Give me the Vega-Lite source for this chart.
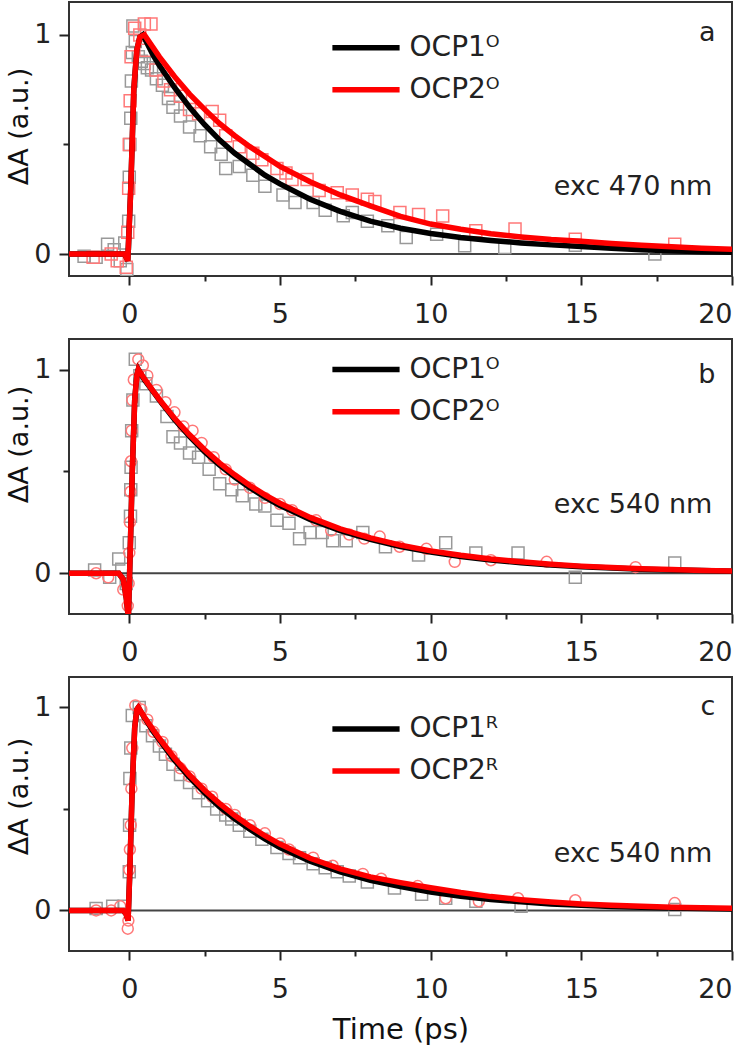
{
"$schema":"https://vega.github.io/schema/vega-lite/v6.json",
"padding":{"left":4,"top":1,"right":0,"bottom":0},
"bounds":"flush",
"spacing":63,
"resolve":{"scale":{"color":"independent","x":"independent","y":"independent"}},
"config":{
 "view":{"stroke":"#333","strokeWidth":2},
 "axis":{"domain":false,"grid":false,"labelFont":"DejaVu Sans","labelFontSize":27,"labelColor":"#222","titleFont":"DejaVu Sans","titleFontSize":29,"titleFontWeight":"normal","titleColor":"#111","tickColor":"#222","tickWidth":2},
 "axisY":{"titleFontSize":27},
 "text":{"font":"DejaVu Sans"}
},
"datasets":{
"pts":[
{"p":"a","s":"OCP1","t":-1.5,"v":-0.01},{"p":"a","s":"OCP1","t":-1.1,"v":-0.015},{"p":"a","s":"OCP1","t":-0.72,"v":0.045},{"p":"a","s":"OCP1","t":-0.5,"v":0.02},{"p":"a","s":"OCP1","t":-0.3,"v":-0.03},{"p":"a","s":"OCP1","t":-0.15,"v":0.05},{"p":"a","s":"OCP1","t":-0.08,"v":-0.07},{"p":"a","s":"OCP1","t":-0.02,"v":0.15},{"p":"a","s":"OCP1","t":0.0,"v":0.35},{"p":"a","s":"OCP1","t":0.02,"v":0.5},{"p":"a","s":"OCP1","t":0.05,"v":0.62},{"p":"a","s":"OCP1","t":0.07,"v":0.79},{"p":"a","s":"OCP1","t":0.1,"v":0.92},{"p":"a","s":"OCP1","t":0.12,"v":1.04},{"p":"a","s":"OCP1","t":0.2,"v":0.97},{"p":"a","s":"OCP1","t":0.3,"v":0.9},{"p":"a","s":"OCP1","t":0.4,"v":0.88},{"p":"a","s":"OCP1","t":0.5,"v":0.87},{"p":"a","s":"OCP1","t":0.6,"v":0.85},{"p":"a","s":"OCP1","t":0.74,"v":0.84},{"p":"a","s":"OCP1","t":0.9,"v":0.8},{"p":"a","s":"OCP1","t":1.1,"v":0.77},{"p":"a","s":"OCP1","t":1.3,"v":0.71},{"p":"a","s":"OCP1","t":1.45,"v":0.67},{"p":"a","s":"OCP1","t":1.7,"v":0.63},{"p":"a","s":"OCP1","t":2.0,"v":0.58},{"p":"a","s":"OCP1","t":2.35,"v":0.54},{"p":"a","s":"OCP1","t":2.7,"v":0.49},{"p":"a","s":"OCP1","t":3.05,"v":0.455},{"p":"a","s":"OCP1","t":3.2,"v":0.39},{"p":"a","s":"OCP1","t":3.65,"v":0.4},{"p":"a","s":"OCP1","t":4.1,"v":0.36},{"p":"a","s":"OCP1","t":4.5,"v":0.31},{"p":"a","s":"OCP1","t":5.1,"v":0.27},{"p":"a","s":"OCP1","t":5.5,"v":0.235},{"p":"a","s":"OCP1","t":6.1,"v":0.235},{"p":"a","s":"OCP1","t":6.5,"v":0.2},{"p":"a","s":"OCP1","t":7.1,"v":0.175},{"p":"a","s":"OCP1","t":7.4,"v":0.19},{"p":"a","s":"OCP1","t":7.9,"v":0.15},{"p":"a","s":"OCP1","t":8.58,"v":0.129},{"p":"a","s":"OCP1","t":9.19,"v":0.076},{"p":"a","s":"OCP1","t":10.2,"v":0.09},{"p":"a","s":"OCP1","t":11.13,"v":0.038},{"p":"a","s":"OCP1","t":12.46,"v":0.03},{"p":"a","s":"OCP1","t":14.8,"v":0.04},{"p":"a","s":"OCP1","t":17.44,"v":0.0},
{"p":"a","s":"OCP2","t":-1.2,"v":-0.015},{"p":"a","s":"OCP2","t":-0.6,"v":0.0},{"p":"a","s":"OCP2","t":-0.4,"v":-0.03},{"p":"a","s":"OCP2","t":-0.1,"v":-0.06},{"p":"a","s":"OCP2","t":-0.05,"v":0.1},{"p":"a","s":"OCP2","t":-0.02,"v":0.3},{"p":"a","s":"OCP2","t":0.0,"v":0.5},{"p":"a","s":"OCP2","t":0.03,"v":0.7},{"p":"a","s":"OCP2","t":0.06,"v":0.9},{"p":"a","s":"OCP2","t":0.18,"v":1.03},{"p":"a","s":"OCP2","t":0.35,"v":1.0},{"p":"a","s":"OCP2","t":0.5,"v":1.05},{"p":"a","s":"OCP2","t":0.55,"v":0.93},{"p":"a","s":"OCP2","t":0.72,"v":1.05},{"p":"a","s":"OCP2","t":0.88,"v":0.84},{"p":"a","s":"OCP2","t":1.15,"v":0.79},{"p":"a","s":"OCP2","t":1.37,"v":0.75},{"p":"a","s":"OCP2","t":1.7,"v":0.72},{"p":"a","s":"OCP2","t":2.0,"v":0.66},{"p":"a","s":"OCP2","t":2.3,"v":0.64},{"p":"a","s":"OCP2","t":2.75,"v":0.65},{"p":"a","s":"OCP2","t":3.0,"v":0.61},{"p":"a","s":"OCP2","t":3.2,"v":0.54},{"p":"a","s":"OCP2","t":3.65,"v":0.49},{"p":"a","s":"OCP2","t":4.1,"v":0.46},{"p":"a","s":"OCP2","t":4.4,"v":0.43},{"p":"a","s":"OCP2","t":4.9,"v":0.39},{"p":"a","s":"OCP2","t":5.2,"v":0.37},{"p":"a","s":"OCP2","t":5.4,"v":0.34},{"p":"a","s":"OCP2","t":5.9,"v":0.34},{"p":"a","s":"OCP2","t":6.3,"v":0.29},{"p":"a","s":"OCP2","t":6.9,"v":0.28},{"p":"a","s":"OCP2","t":7.4,"v":0.27},{"p":"a","s":"OCP2","t":7.9,"v":0.25},{"p":"a","s":"OCP2","t":8.15,"v":0.24},{"p":"a","s":"OCP2","t":8.98,"v":0.19},{"p":"a","s":"OCP2","t":9.6,"v":0.18},{"p":"a","s":"OCP2","t":10.4,"v":0.174},{"p":"a","s":"OCP2","t":11.5,"v":0.106},{"p":"a","s":"OCP2","t":12.8,"v":0.114},{"p":"a","s":"OCP2","t":14.8,"v":0.068},{"p":"a","s":"OCP2","t":18.1,"v":0.045},
{"p":"b","s":"OCP1","t":-1.15,"v":0.016},{"p":"b","s":"OCP1","t":-0.65,"v":-0.02},{"p":"b","s":"OCP1","t":-0.35,"v":0.07},{"p":"b","s":"OCP1","t":-0.25,"v":0.02},{"p":"b","s":"OCP1","t":-0.1,"v":-0.05},{"p":"b","s":"OCP1","t":0.0,"v":0.15},{"p":"b","s":"OCP1","t":0.04,"v":0.28},{"p":"b","s":"OCP1","t":0.05,"v":0.41},{"p":"b","s":"OCP1","t":0.06,"v":0.52},{"p":"b","s":"OCP1","t":0.08,"v":0.7},{"p":"b","s":"OCP1","t":0.12,"v":0.85},{"p":"b","s":"OCP1","t":0.2,"v":1.05},{"p":"b","s":"OCP1","t":0.35,"v":0.97},{"p":"b","s":"OCP1","t":0.55,"v":0.93},{"p":"b","s":"OCP1","t":0.9,"v":0.87},{"p":"b","s":"OCP1","t":1.25,"v":0.77},{"p":"b","s":"OCP1","t":1.45,"v":0.67},{"p":"b","s":"OCP1","t":1.7,"v":0.64},{"p":"b","s":"OCP1","t":2.0,"v":0.59},{"p":"b","s":"OCP1","t":2.3,"v":0.57},{"p":"b","s":"OCP1","t":2.65,"v":0.51},{"p":"b","s":"OCP1","t":3.0,"v":0.44},{"p":"b","s":"OCP1","t":3.4,"v":0.41},{"p":"b","s":"OCP1","t":3.75,"v":0.38},{"p":"b","s":"OCP1","t":4.2,"v":0.34},{"p":"b","s":"OCP1","t":4.5,"v":0.33},{"p":"b","s":"OCP1","t":4.9,"v":0.26},{"p":"b","s":"OCP1","t":5.3,"v":0.245},{"p":"b","s":"OCP1","t":5.65,"v":0.17},{"p":"b","s":"OCP1","t":6.0,"v":0.2},{"p":"b","s":"OCP1","t":6.4,"v":0.2},{"p":"b","s":"OCP1","t":6.75,"v":0.16},{"p":"b","s":"OCP1","t":7.2,"v":0.16},{"p":"b","s":"OCP1","t":7.75,"v":0.2},{"p":"b","s":"OCP1","t":8.5,"v":0.13},{"p":"b","s":"OCP1","t":9.6,"v":0.09},{"p":"b","s":"OCP1","t":10.5,"v":0.15},{"p":"b","s":"OCP1","t":11.5,"v":0.1},{"p":"b","s":"OCP1","t":12.9,"v":0.1},{"p":"b","s":"OCP1","t":14.8,"v":-0.02},{"p":"b","s":"OCP1","t":18.1,"v":0.05},
{"p":"b","s":"OCP2","t":-1.1,"v":0.0},{"p":"b","s":"OCP2","t":-0.7,"v":-0.02},{"p":"b","s":"OCP2","t":-0.2,"v":-0.08},{"p":"b","s":"OCP2","t":-0.05,"v":-0.16},{"p":"b","s":"OCP2","t":-0.02,"v":-0.05},{"p":"b","s":"OCP2","t":0.0,"v":0.1},{"p":"b","s":"OCP2","t":0.02,"v":0.25},{"p":"b","s":"OCP2","t":0.04,"v":0.4},{"p":"b","s":"OCP2","t":0.06,"v":0.55},{"p":"b","s":"OCP2","t":0.08,"v":0.7},{"p":"b","s":"OCP2","t":0.1,"v":0.85},{"p":"b","s":"OCP2","t":0.15,"v":0.95},{"p":"b","s":"OCP2","t":0.3,"v":1.05},{"p":"b","s":"OCP2","t":0.45,"v":1.02},{"p":"b","s":"OCP2","t":0.6,"v":0.97},{"p":"b","s":"OCP2","t":0.9,"v":0.9},{"p":"b","s":"OCP2","t":1.2,"v":0.84},{"p":"b","s":"OCP2","t":1.5,"v":0.79},{"p":"b","s":"OCP2","t":1.8,"v":0.72},{"p":"b","s":"OCP2","t":2.1,"v":0.7},{"p":"b","s":"OCP2","t":2.4,"v":0.64},{"p":"b","s":"OCP2","t":2.8,"v":0.57},{"p":"b","s":"OCP2","t":3.2,"v":0.51},{"p":"b","s":"OCP2","t":3.5,"v":0.46},{"p":"b","s":"OCP2","t":4.0,"v":0.42},{"p":"b","s":"OCP2","t":4.5,"v":0.37},{"p":"b","s":"OCP2","t":5.0,"v":0.34},{"p":"b","s":"OCP2","t":5.4,"v":0.31},{"p":"b","s":"OCP2","t":6.2,"v":0.26},{"p":"b","s":"OCP2","t":6.7,"v":0.21},{"p":"b","s":"OCP2","t":7.3,"v":0.19},{"p":"b","s":"OCP2","t":7.8,"v":0.17},{"p":"b","s":"OCP2","t":8.31,"v":0.18},{"p":"b","s":"OCP2","t":8.97,"v":0.13},{"p":"b","s":"OCP2","t":9.86,"v":0.12},{"p":"b","s":"OCP2","t":10.8,"v":0.056},{"p":"b","s":"OCP2","t":12.0,"v":0.064},{"p":"b","s":"OCP2","t":13.85,"v":0.056},{"p":"b","s":"OCP2","t":16.8,"v":0.03},
{"p":"c","s":"OCP1","t":-1.1,"v":0.01},{"p":"c","s":"OCP1","t":-0.55,"v":0.02},{"p":"c","s":"OCP1","t":-0.17,"v":0.02},{"p":"c","s":"OCP1","t":0.0,"v":0.19},{"p":"c","s":"OCP1","t":0.01,"v":0.42},{"p":"c","s":"OCP1","t":0.02,"v":0.65},{"p":"c","s":"OCP1","t":0.05,"v":0.8},{"p":"c","s":"OCP1","t":0.1,"v":0.96},{"p":"c","s":"OCP1","t":0.33,"v":1.0},{"p":"c","s":"OCP1","t":0.55,"v":0.91},{"p":"c","s":"OCP1","t":0.77,"v":0.86},{"p":"c","s":"OCP1","t":1.0,"v":0.81},{"p":"c","s":"OCP1","t":1.2,"v":0.77},{"p":"c","s":"OCP1","t":1.45,"v":0.72},{"p":"c","s":"OCP1","t":1.7,"v":0.67},{"p":"c","s":"OCP1","t":2.0,"v":0.63},{"p":"c","s":"OCP1","t":2.3,"v":0.58},{"p":"c","s":"OCP1","t":2.6,"v":0.54},{"p":"c","s":"OCP1","t":2.9,"v":0.5},{"p":"c","s":"OCP1","t":3.2,"v":0.47},{"p":"c","s":"OCP1","t":3.4,"v":0.45},{"p":"c","s":"OCP1","t":3.65,"v":0.42},{"p":"c","s":"OCP1","t":4.0,"v":0.39},{"p":"c","s":"OCP1","t":4.4,"v":0.35},{"p":"c","s":"OCP1","t":4.9,"v":0.31},{"p":"c","s":"OCP1","t":5.3,"v":0.28},{"p":"c","s":"OCP1","t":5.65,"v":0.26},{"p":"c","s":"OCP1","t":6.1,"v":0.23},{"p":"c","s":"OCP1","t":6.5,"v":0.21},{"p":"c","s":"OCP1","t":6.9,"v":0.19},{"p":"c","s":"OCP1","t":7.3,"v":0.17},{"p":"c","s":"OCP1","t":7.9,"v":0.14},{"p":"c","s":"OCP1","t":8.8,"v":0.11},{"p":"c","s":"OCP1","t":9.7,"v":0.08},{"p":"c","s":"OCP1","t":10.5,"v":0.06},{"p":"c","s":"OCP1","t":11.5,"v":0.045},{"p":"c","s":"OCP1","t":13.0,"v":0.02},{"p":"c","s":"OCP1","t":18.1,"v":0.005},
{"p":"c","s":"OCP2","t":-1.1,"v":0.0},{"p":"c","s":"OCP2","t":-0.6,"v":0.0},{"p":"c","s":"OCP2","t":-0.3,"v":0.02},{"p":"c","s":"OCP2","t":-0.05,"v":-0.09},{"p":"c","s":"OCP2","t":-0.03,"v":-0.05},{"p":"c","s":"OCP2","t":0.0,"v":0.2},{"p":"c","s":"OCP2","t":0.02,"v":0.3},{"p":"c","s":"OCP2","t":0.05,"v":0.42},{"p":"c","s":"OCP2","t":0.07,"v":0.6},{"p":"c","s":"OCP2","t":0.1,"v":0.8},{"p":"c","s":"OCP2","t":0.2,"v":1.01},{"p":"c","s":"OCP2","t":0.4,"v":0.99},{"p":"c","s":"OCP2","t":0.6,"v":0.94},{"p":"c","s":"OCP2","t":0.8,"v":0.88},{"p":"c","s":"OCP2","t":1.1,"v":0.83},{"p":"c","s":"OCP2","t":1.4,"v":0.76},{"p":"c","s":"OCP2","t":1.7,"v":0.7},{"p":"c","s":"OCP2","t":2.0,"v":0.66},{"p":"c","s":"OCP2","t":2.4,"v":0.6},{"p":"c","s":"OCP2","t":2.75,"v":0.56},{"p":"c","s":"OCP2","t":3.2,"v":0.5},{"p":"c","s":"OCP2","t":3.5,"v":0.47},{"p":"c","s":"OCP2","t":4.0,"v":0.42},{"p":"c","s":"OCP2","t":4.5,"v":0.38},{"p":"c","s":"OCP2","t":5.0,"v":0.33},{"p":"c","s":"OCP2","t":5.3,"v":0.3},{"p":"c","s":"OCP2","t":6.1,"v":0.26},{"p":"c","s":"OCP2","t":6.75,"v":0.22},{"p":"c","s":"OCP2","t":7.75,"v":0.18},{"p":"c","s":"OCP2","t":8.36,"v":0.156},{"p":"c","s":"OCP2","t":9.57,"v":0.12},{"p":"c","s":"OCP2","t":10.5,"v":0.06},{"p":"c","s":"OCP2","t":11.6,"v":0.045},{"p":"c","s":"OCP2","t":12.9,"v":0.06},{"p":"c","s":"OCP2","t":14.8,"v":0.05},{"p":"c","s":"OCP2","t":18.1,"v":0.036}
],
"fit":[
{"p":"a","s":"OCP1","t":-2,"v":0},{"p":"a","s":"OCP1","t":-0.15,"v":0},{"p":"a","s":"OCP1","t":-0.05,"v":-0.03},{"p":"a","s":"OCP1","t":0.05,"v":0.3},{"p":"a","s":"OCP1","t":0.15,"v":0.75},{"p":"a","s":"OCP1","t":0.25,"v":0.93},{"p":"a","s":"OCP1","t":0.35,"v":0.99},{"p":"a","s":"OCP1","t":0.45,"v":1.0},{"p":"a","s":"OCP1","t":0.6,"v":0.96},{"p":"a","s":"OCP1","t":0.8,"v":0.905},{"p":"a","s":"OCP1","t":1,"v":0.86},{"p":"a","s":"OCP1","t":1.5,"v":0.76},{"p":"a","s":"OCP1","t":2,"v":0.67},{"p":"a","s":"OCP1","t":2.5,"v":0.59},{"p":"a","s":"OCP1","t":3,"v":0.52},{"p":"a","s":"OCP1","t":3.5,"v":0.46},{"p":"a","s":"OCP1","t":4,"v":0.41},{"p":"a","s":"OCP1","t":4.5,"v":0.36},{"p":"a","s":"OCP1","t":5,"v":0.32},{"p":"a","s":"OCP1","t":6,"v":0.25},{"p":"a","s":"OCP1","t":7,"v":0.195},{"p":"a","s":"OCP1","t":8,"v":0.15},{"p":"a","s":"OCP1","t":9,"v":0.118},{"p":"a","s":"OCP1","t":10,"v":0.094},{"p":"a","s":"OCP1","t":11,"v":0.076},{"p":"a","s":"OCP1","t":12,"v":0.062},{"p":"a","s":"OCP1","t":13,"v":0.051},{"p":"a","s":"OCP1","t":14,"v":0.042},{"p":"a","s":"OCP1","t":15,"v":0.035},{"p":"a","s":"OCP1","t":16,"v":0.027},{"p":"a","s":"OCP1","t":17,"v":0.02},{"p":"a","s":"OCP1","t":18,"v":0.015},{"p":"a","s":"OCP1","t":19,"v":0.011},{"p":"a","s":"OCP1","t":20,"v":0.008},
{"p":"a","s":"OCP2","t":-2,"v":0},{"p":"a","s":"OCP2","t":-0.15,"v":0},{"p":"a","s":"OCP2","t":-0.05,"v":-0.03},{"p":"a","s":"OCP2","t":0.05,"v":0.3},{"p":"a","s":"OCP2","t":0.15,"v":0.75},{"p":"a","s":"OCP2","t":0.25,"v":0.93},{"p":"a","s":"OCP2","t":0.35,"v":0.99},{"p":"a","s":"OCP2","t":0.5,"v":1.0},{"p":"a","s":"OCP2","t":0.7,"v":0.96},{"p":"a","s":"OCP2","t":1,"v":0.9},{"p":"a","s":"OCP2","t":1.5,"v":0.81},{"p":"a","s":"OCP2","t":2,"v":0.73},{"p":"a","s":"OCP2","t":2.5,"v":0.66},{"p":"a","s":"OCP2","t":3,"v":0.595},{"p":"a","s":"OCP2","t":3.5,"v":0.54},{"p":"a","s":"OCP2","t":4,"v":0.49},{"p":"a","s":"OCP2","t":4.5,"v":0.445},{"p":"a","s":"OCP2","t":5,"v":0.4},{"p":"a","s":"OCP2","t":6,"v":0.33},{"p":"a","s":"OCP2","t":7,"v":0.27},{"p":"a","s":"OCP2","t":8,"v":0.22},{"p":"a","s":"OCP2","t":9,"v":0.172},{"p":"a","s":"OCP2","t":10,"v":0.137},{"p":"a","s":"OCP2","t":11,"v":0.113},{"p":"a","s":"OCP2","t":12,"v":0.093},{"p":"a","s":"OCP2","t":13,"v":0.078},{"p":"a","s":"OCP2","t":14,"v":0.066},{"p":"a","s":"OCP2","t":15,"v":0.058},{"p":"a","s":"OCP2","t":16,"v":0.048},{"p":"a","s":"OCP2","t":17,"v":0.04},{"p":"a","s":"OCP2","t":18,"v":0.033},{"p":"a","s":"OCP2","t":19,"v":0.027},{"p":"a","s":"OCP2","t":20,"v":0.022},
{"p":"b","s":"OCP1","t":-2,"v":0},{"p":"b","s":"OCP1","t":-0.35,"v":0},{"p":"b","s":"OCP1","t":-0.2,"v":-0.03},{"p":"b","s":"OCP1","t":-0.1,"v":-0.12},{"p":"b","s":"OCP1","t":-0.03,"v":-0.22},{"p":"b","s":"OCP1","t":0.03,"v":0.1},{"p":"b","s":"OCP1","t":0.1,"v":0.5},{"p":"b","s":"OCP1","t":0.18,"v":0.85},{"p":"b","s":"OCP1","t":0.25,"v":0.97},{"p":"b","s":"OCP1","t":0.3,"v":1.0},{"p":"b","s":"OCP1","t":0.5,"v":0.95},{"p":"b","s":"OCP1","t":0.8,"v":0.89},{"p":"b","s":"OCP1","t":1,"v":0.85},{"p":"b","s":"OCP1","t":1.5,"v":0.755},{"p":"b","s":"OCP1","t":2,"v":0.672},{"p":"b","s":"OCP1","t":2.5,"v":0.597},{"p":"b","s":"OCP1","t":3,"v":0.531},{"p":"b","s":"OCP1","t":3.5,"v":0.472},{"p":"b","s":"OCP1","t":4,"v":0.42},{"p":"b","s":"OCP1","t":4.5,"v":0.374},{"p":"b","s":"OCP1","t":5,"v":0.333},{"p":"b","s":"OCP1","t":6,"v":0.264},{"p":"b","s":"OCP1","t":7,"v":0.209},{"p":"b","s":"OCP1","t":8,"v":0.166},{"p":"b","s":"OCP1","t":9,"v":0.131},{"p":"b","s":"OCP1","t":10,"v":0.104},{"p":"b","s":"OCP1","t":11,"v":0.082},{"p":"b","s":"OCP1","t":12,"v":0.065},{"p":"b","s":"OCP1","t":13,"v":0.052},{"p":"b","s":"OCP1","t":14,"v":0.041},{"p":"b","s":"OCP1","t":15,"v":0.032},{"p":"b","s":"OCP1","t":16,"v":0.026},{"p":"b","s":"OCP1","t":17,"v":0.02},{"p":"b","s":"OCP1","t":18,"v":0.016},{"p":"b","s":"OCP1","t":19,"v":0.013},{"p":"b","s":"OCP1","t":20,"v":0.01},
{"p":"b","s":"OCP2","t":-2,"v":0},{"p":"b","s":"OCP2","t":-0.35,"v":0},{"p":"b","s":"OCP2","t":-0.2,"v":-0.03},{"p":"b","s":"OCP2","t":-0.1,"v":-0.12},{"p":"b","s":"OCP2","t":-0.03,"v":-0.22},{"p":"b","s":"OCP2","t":0.03,"v":0.1},{"p":"b","s":"OCP2","t":0.1,"v":0.5},{"p":"b","s":"OCP2","t":0.18,"v":0.85},{"p":"b","s":"OCP2","t":0.25,"v":0.97},{"p":"b","s":"OCP2","t":0.3,"v":1.0},{"p":"b","s":"OCP2","t":0.5,"v":0.955},{"p":"b","s":"OCP2","t":0.8,"v":0.893},{"p":"b","s":"OCP2","t":1,"v":0.853},{"p":"b","s":"OCP2","t":1.5,"v":0.761},{"p":"b","s":"OCP2","t":2,"v":0.68},{"p":"b","s":"OCP2","t":2.5,"v":0.606},{"p":"b","s":"OCP2","t":3,"v":0.541},{"p":"b","s":"OCP2","t":3.5,"v":0.483},{"p":"b","s":"OCP2","t":4,"v":0.431},{"p":"b","s":"OCP2","t":4.5,"v":0.385},{"p":"b","s":"OCP2","t":5,"v":0.344},{"p":"b","s":"OCP2","t":6,"v":0.274},{"p":"b","s":"OCP2","t":7,"v":0.218},{"p":"b","s":"OCP2","t":8,"v":0.174},{"p":"b","s":"OCP2","t":9,"v":0.138},{"p":"b","s":"OCP2","t":10,"v":0.11},{"p":"b","s":"OCP2","t":11,"v":0.088},{"p":"b","s":"OCP2","t":12,"v":0.07},{"p":"b","s":"OCP2","t":13,"v":0.056},{"p":"b","s":"OCP2","t":14,"v":0.044},{"p":"b","s":"OCP2","t":15,"v":0.035},{"p":"b","s":"OCP2","t":16,"v":0.028},{"p":"b","s":"OCP2","t":17,"v":0.022},{"p":"b","s":"OCP2","t":18,"v":0.018},{"p":"b","s":"OCP2","t":19,"v":0.014},{"p":"b","s":"OCP2","t":20,"v":0.011},
{"p":"c","s":"OCP1","t":-2,"v":0},{"p":"c","s":"OCP1","t":-0.2,"v":0},{"p":"c","s":"OCP1","t":-0.1,"v":-0.02},{"p":"c","s":"OCP1","t":-0.04,"v":-0.05},{"p":"c","s":"OCP1","t":0.02,"v":0.2},{"p":"c","s":"OCP1","t":0.1,"v":0.62},{"p":"c","s":"OCP1","t":0.18,"v":0.9},{"p":"c","s":"OCP1","t":0.25,"v":0.99},{"p":"c","s":"OCP1","t":0.3,"v":1.0},{"p":"c","s":"OCP1","t":0.5,"v":0.95},{"p":"c","s":"OCP1","t":0.8,"v":0.88},{"p":"c","s":"OCP1","t":1,"v":0.84},{"p":"c","s":"OCP1","t":1.5,"v":0.74},{"p":"c","s":"OCP1","t":2,"v":0.655},{"p":"c","s":"OCP1","t":2.5,"v":0.58},{"p":"c","s":"OCP1","t":3,"v":0.51},{"p":"c","s":"OCP1","t":3.5,"v":0.452},{"p":"c","s":"OCP1","t":4,"v":0.4},{"p":"c","s":"OCP1","t":4.5,"v":0.352},{"p":"c","s":"OCP1","t":5,"v":0.31},{"p":"c","s":"OCP1","t":6,"v":0.242},{"p":"c","s":"OCP1","t":7,"v":0.19},{"p":"c","s":"OCP1","t":8,"v":0.148},{"p":"c","s":"OCP1","t":9,"v":0.117},{"p":"c","s":"OCP1","t":10,"v":0.09},{"p":"c","s":"OCP1","t":11,"v":0.07},{"p":"c","s":"OCP1","t":12,"v":0.054},{"p":"c","s":"OCP1","t":13,"v":0.042},{"p":"c","s":"OCP1","t":14,"v":0.032},{"p":"c","s":"OCP1","t":15,"v":0.025},{"p":"c","s":"OCP1","t":16,"v":0.019},{"p":"c","s":"OCP1","t":17,"v":0.015},{"p":"c","s":"OCP1","t":18,"v":0.012},{"p":"c","s":"OCP1","t":19,"v":0.009},{"p":"c","s":"OCP1","t":20,"v":0.007},
{"p":"c","s":"OCP2","t":-2,"v":0},{"p":"c","s":"OCP2","t":-0.2,"v":0},{"p":"c","s":"OCP2","t":-0.1,"v":-0.02},{"p":"c","s":"OCP2","t":-0.04,"v":-0.05},{"p":"c","s":"OCP2","t":0.02,"v":0.2},{"p":"c","s":"OCP2","t":0.1,"v":0.62},{"p":"c","s":"OCP2","t":0.18,"v":0.9},{"p":"c","s":"OCP2","t":0.25,"v":0.99},{"p":"c","s":"OCP2","t":0.3,"v":1.0},{"p":"c","s":"OCP2","t":0.5,"v":0.953},{"p":"c","s":"OCP2","t":0.8,"v":0.888},{"p":"c","s":"OCP2","t":1,"v":0.847},{"p":"c","s":"OCP2","t":1.5,"v":0.751},{"p":"c","s":"OCP2","t":2,"v":0.667},{"p":"c","s":"OCP2","t":2.5,"v":0.592},{"p":"c","s":"OCP2","t":3,"v":0.526},{"p":"c","s":"OCP2","t":3.5,"v":0.467},{"p":"c","s":"OCP2","t":4,"v":0.415},{"p":"c","s":"OCP2","t":4.5,"v":0.368},{"p":"c","s":"OCP2","t":5,"v":0.327},{"p":"c","s":"OCP2","t":6,"v":0.257},{"p":"c","s":"OCP2","t":7,"v":0.205},{"p":"c","s":"OCP2","t":8,"v":0.165},{"p":"c","s":"OCP2","t":9,"v":0.137},{"p":"c","s":"OCP2","t":10,"v":0.112},{"p":"c","s":"OCP2","t":11,"v":0.088},{"p":"c","s":"OCP2","t":12,"v":0.068},{"p":"c","s":"OCP2","t":13,"v":0.053},{"p":"c","s":"OCP2","t":14,"v":0.041},{"p":"c","s":"OCP2","t":15,"v":0.032},{"p":"c","s":"OCP2","t":16,"v":0.025},{"p":"c","s":"OCP2","t":17,"v":0.02},{"p":"c","s":"OCP2","t":18,"v":0.016},{"p":"c","s":"OCP2","t":19,"v":0.013},{"p":"c","s":"OCP2","t":20,"v":0.011}
]
},
"vconcat":[
{
 "width":663,"height":274,
 "layer":[
  {"data":{"values":[{}]},"mark":{"type":"rule","color":"#444","strokeWidth":2},"encoding":{"y":{"datum":0,"type":"quantitative","scale":{"domain":[-0.1,1.15],"nice":false,"zero":false}}}},
  {"data":{"name":"pts"},"transform":[{"filter":"datum.p==='a' && datum.s==='OCP1'"}],"mark":{"type":"point","shape":"square","filled":false,"color":"#999","strokeWidth":1.5,"size":144,"opacity":1,"clip":true},
   "encoding":{"x":{"field":"t","type":"quantitative"},"y":{"field":"v","type":"quantitative"}}},
  {"data":{"name":"pts"},"transform":[{"filter":"datum.p==='a' && datum.s==='OCP2'"}],"mark":{"type":"point","shape":"square","filled":false,"color":"#ff7878","strokeWidth":1.5,"size":144,"opacity":1,"clip":true},
   "encoding":{"x":{"field":"t","type":"quantitative"},"y":{"field":"v","type":"quantitative"}}},
  {"data":{"name":"fit"},"transform":[{"filter":"datum.p==='a'"}],"mark":{"type":"line","strokeWidth":5.5,"clip":true},
   "encoding":{
    "x":{"field":"t","type":"quantitative","scale":{"domain":[-2,20],"nice":false,"zero":false},
         "axis":{"title":null,"values":[0,2.5,5,7.5,10,12.5,15,17.5,20],"format":"~g","labelExpr":"datum.value % 5 === 0 ? datum.label : ''","labelPadding":16,"tickSize":{"condition":{"test":"datum.value % 5 === 0","value":9},"value":5}}},
    "y":{"field":"v","type":"quantitative","scale":{"domain":[-0.1,1.15],"nice":false,"zero":false},
         "axis":{"title":"ΔA (a.u.)","values":[0,0.5,1],"format":"~g","labelExpr":"datum.value === 0.5 ? '' : datum.label","labelPadding":8,"titlePadding":0,"titleY":124,"tickSize":{"condition":{"test":"datum.value === 0.5","value":6},"value":10}}},
    "color":{"field":"s","type":"nominal","scale":{"domain":["OCP1","OCP2"],"range":["#000000","#ff0000"]},"legend":null}
   }},
  {"data":{"values":[{}]},"mark":{"type":"rule","color":"#000000","strokeWidth":5.5},"encoding":{"x":{"datum":6.74,"type":"quantitative"},"x2":{"datum":8.97},"y":{"datum":0.941,"type":"quantitative"}}},
  {"data":{"values":[{}]},"mark":{"type":"rule","color":"#ff0000","strokeWidth":5.5},"encoding":{"x":{"datum":6.74,"type":"quantitative"},"x2":{"datum":8.97},"y":{"datum":0.75,"type":"quantitative"}}},
  {"data":{"values":[{}]},"mark":{"type":"text","align":"left","baseline":"middle","fontSize":28,"color":"#222"},"encoding":{"x":{"datum":9.3,"type":"quantitative"},"y":{"datum":0.941,"type":"quantitative"},"text":{"value":"OCP1ᴼ"}}},
  {"data":{"values":[{}]},"mark":{"type":"text","align":"left","baseline":"middle","fontSize":28,"color":"#222"},"encoding":{"x":{"datum":9.3,"type":"quantitative"},"y":{"datum":0.75,"type":"quantitative"},"text":{"value":"OCP2ᴼ"}}},
  {"data":{"values":[{}]},"mark":{"type":"text","align":"right","baseline":"middle","fontSize":27,"color":"#222"},"encoding":{"x":{"datum":19.45,"type":"quantitative"},"y":{"datum":1.01,"type":"quantitative"},"text":{"value":"a"}}},
  {"data":{"values":[{}]},"mark":{"type":"text","align":"right","baseline":"middle","fontSize":27,"color":"#222"},"encoding":{"x":{"datum":19.35,"type":"quantitative"},"y":{"datum":0.305,"type":"quantitative"},"text":{"value":"exc 470 nm"}}}
 ]
},
{
 "width":663,"height":275,
 "layer":[
  {"data":{"values":[{}]},"mark":{"type":"rule","color":"#444","strokeWidth":2},"encoding":{"y":{"datum":0,"type":"quantitative","scale":{"domain":[-0.2,1.15],"nice":false,"zero":false}}}},
  {"data":{"name":"pts"},"transform":[{"filter":"datum.p==='b' && datum.s==='OCP1'"}],"mark":{"type":"point","shape":"square","filled":false,"color":"#999","strokeWidth":1.5,"size":144,"opacity":1,"clip":true},
   "encoding":{"x":{"field":"t","type":"quantitative"},"y":{"field":"v","type":"quantitative"}}},
  {"data":{"name":"pts"},"transform":[{"filter":"datum.p==='b' && datum.s==='OCP2'"}],"mark":{"type":"point","shape":"circle","filled":false,"color":"#ff7878","strokeWidth":1.5,"size":120,"opacity":1,"clip":true},
   "encoding":{"x":{"field":"t","type":"quantitative"},"y":{"field":"v","type":"quantitative"}}},
  {"data":{"name":"fit"},"transform":[{"filter":"datum.p==='b'"}],"mark":{"type":"line","strokeWidth":5.5,"clip":true},
   "encoding":{
    "x":{"field":"t","type":"quantitative","scale":{"domain":[-2,20],"nice":false,"zero":false},
         "axis":{"title":null,"values":[0,2.5,5,7.5,10,12.5,15,17.5,20],"format":"~g","labelExpr":"datum.value % 5 === 0 ? datum.label : ''","labelPadding":16,"tickSize":{"condition":{"test":"datum.value % 5 === 0","value":9},"value":5}}},
    "y":{"field":"v","type":"quantitative","scale":{"domain":[-0.2,1.15],"nice":false,"zero":false},
         "axis":{"title":"ΔA (a.u.)","values":[0,0.5,1],"format":"~g","labelExpr":"datum.value === 0.5 ? '' : datum.label","labelPadding":8,"titlePadding":0,"titleY":105,"tickSize":{"condition":{"test":"datum.value === 0.5","value":6},"value":10}}},
    "color":{"field":"s","type":"nominal","scale":{"domain":["OCP1","OCP2"],"range":["#000000","#ff0000"]},"legend":null}
   }},
  {"data":{"values":[{}]},"mark":{"type":"rule","color":"#000000","strokeWidth":5.5},"encoding":{"x":{"datum":6.74,"type":"quantitative"},"x2":{"datum":8.97},"y":{"datum":1.0,"type":"quantitative"}}},
  {"data":{"values":[{}]},"mark":{"type":"rule","color":"#ff0000","strokeWidth":5.5},"encoding":{"x":{"datum":6.74,"type":"quantitative"},"x2":{"datum":8.97},"y":{"datum":0.793,"type":"quantitative"}}},
  {"data":{"values":[{}]},"mark":{"type":"text","align":"left","baseline":"middle","fontSize":28,"color":"#222"},"encoding":{"x":{"datum":9.3,"type":"quantitative"},"y":{"datum":1.0,"type":"quantitative"},"text":{"value":"OCP1ᴼ"}}},
  {"data":{"values":[{}]},"mark":{"type":"text","align":"left","baseline":"middle","fontSize":28,"color":"#222"},"encoding":{"x":{"datum":9.3,"type":"quantitative"},"y":{"datum":0.793,"type":"quantitative"},"text":{"value":"OCP2ᴼ"}}},
  {"data":{"values":[{}]},"mark":{"type":"text","align":"right","baseline":"middle","fontSize":27,"color":"#222"},"encoding":{"x":{"datum":19.45,"type":"quantitative"},"y":{"datum":0.975,"type":"quantitative"},"text":{"value":"b"}}},
  {"data":{"values":[{}]},"mark":{"type":"text","align":"right","baseline":"middle","fontSize":27,"color":"#222"},"encoding":{"x":{"datum":19.35,"type":"quantitative"},"y":{"datum":0.336,"type":"quantitative"},"text":{"value":"exc 540 nm"}}}
 ]
},
{
 "width":663,"height":274,
 "layer":[
  {"data":{"values":[{}]},"mark":{"type":"rule","color":"#444","strokeWidth":2},"encoding":{"y":{"datum":0,"type":"quantitative","scale":{"domain":[-0.2,1.15],"nice":false,"zero":false}}}},
  {"data":{"name":"pts"},"transform":[{"filter":"datum.p==='c' && datum.s==='OCP1'"}],"mark":{"type":"point","shape":"square","filled":false,"color":"#999","strokeWidth":1.5,"size":144,"opacity":1,"clip":true},
   "encoding":{"x":{"field":"t","type":"quantitative"},"y":{"field":"v","type":"quantitative"}}},
  {"data":{"name":"pts"},"transform":[{"filter":"datum.p==='c' && datum.s==='OCP2'"}],"mark":{"type":"point","shape":"circle","filled":false,"color":"#ff7878","strokeWidth":1.5,"size":120,"opacity":1,"clip":true},
   "encoding":{"x":{"field":"t","type":"quantitative"},"y":{"field":"v","type":"quantitative"}}},
  {"data":{"name":"fit"},"transform":[{"filter":"datum.p==='c'"}],"mark":{"type":"line","strokeWidth":5.5,"clip":true},
   "encoding":{
    "x":{"field":"t","type":"quantitative","scale":{"domain":[-2,20],"nice":false,"zero":false},
         "axis":{"title":"Time (ps)","titlePadding":13,"values":[0,2.5,5,7.5,10,12.5,15,17.5,20],"format":"~g","labelExpr":"datum.value % 5 === 0 ? datum.label : ''","labelPadding":16,"tickSize":{"condition":{"test":"datum.value % 5 === 0","value":9},"value":5}}},
    "y":{"field":"v","type":"quantitative","scale":{"domain":[-0.2,1.15],"nice":false,"zero":false},
         "axis":{"title":"ΔA (a.u.)","values":[0,0.5,1],"format":"~g","labelExpr":"datum.value === 0.5 ? '' : datum.label","labelPadding":8,"titlePadding":0,"titleY":119,"tickSize":{"condition":{"test":"datum.value === 0.5","value":6},"value":10}}},
    "color":{"field":"s","type":"nominal","scale":{"domain":["OCP1","OCP2"],"range":["#000000","#ff0000"]},"legend":null}
   }},
  {"data":{"values":[{}]},"mark":{"type":"rule","color":"#000000","strokeWidth":5.5},"encoding":{"x":{"datum":6.74,"type":"quantitative"},"x2":{"datum":8.97},"y":{"datum":0.894,"type":"quantitative"}}},
  {"data":{"values":[{}]},"mark":{"type":"rule","color":"#ff0000","strokeWidth":5.5},"encoding":{"x":{"datum":6.74,"type":"quantitative"},"x2":{"datum":8.97},"y":{"datum":0.687,"type":"quantitative"}}},
  {"data":{"values":[{}]},"mark":{"type":"text","align":"left","baseline":"middle","fontSize":28,"color":"#222"},"encoding":{"x":{"datum":9.3,"type":"quantitative"},"y":{"datum":0.894,"type":"quantitative"},"text":{"value":"OCP1ᴿ"}}},
  {"data":{"values":[{}]},"mark":{"type":"text","align":"left","baseline":"middle","fontSize":28,"color":"#222"},"encoding":{"x":{"datum":9.3,"type":"quantitative"},"y":{"datum":0.687,"type":"quantitative"},"text":{"value":"OCP2ᴿ"}}},
  {"data":{"values":[{}]},"mark":{"type":"text","align":"right","baseline":"middle","fontSize":27,"color":"#222"},"encoding":{"x":{"datum":19.45,"type":"quantitative"},"y":{"datum":1.0,"type":"quantitative"},"text":{"value":"c"}}},
  {"data":{"values":[{}]},"mark":{"type":"text","align":"right","baseline":"middle","fontSize":27,"color":"#222"},"encoding":{"x":{"datum":19.35,"type":"quantitative"},"y":{"datum":0.279,"type":"quantitative"},"text":{"value":"exc 540 nm"}}}
 ]
}
]
}
